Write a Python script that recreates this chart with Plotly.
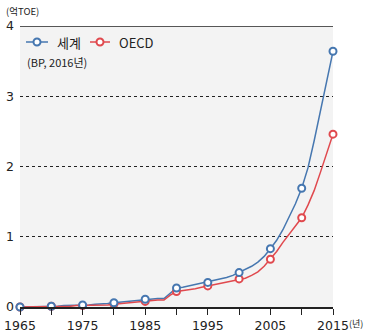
import plotly.graph_objects as go

years = list(range(1965, 2016))
world = [0.00, 0.00, 0.00, 0.00, 0.01, 0.01, 0.01, 0.02, 0.02, 0.03,
         0.03, 0.03, 0.04, 0.04, 0.05, 0.06, 0.07, 0.08, 0.09, 0.10,
         0.11, 0.11, 0.12, 0.12, 0.20, 0.27, 0.28, 0.30, 0.31, 0.33,
         0.35, 0.37, 0.40, 0.42, 0.45, 0.49, 0.53, 0.58, 0.64, 0.72,
         0.83, 0.95, 1.10, 1.28, 1.47, 1.69, 1.98, 2.37, 2.80, 3.22,
         3.64]
oecd = [0.00, 0.00, 0.00, 0.00, 0.00, 0.01, 0.01, 0.01, 0.01, 0.02,
        0.02, 0.02, 0.02, 0.03, 0.03, 0.04, 0.05, 0.05, 0.06, 0.07,
        0.08, 0.09, 0.10, 0.10, 0.17, 0.22, 0.23, 0.25, 0.26, 0.28,
        0.30, 0.31, 0.33, 0.35, 0.37, 0.40, 0.41, 0.45, 0.50, 0.58,
        0.68, 0.79, 0.92, 1.04, 1.15, 1.27, 1.45, 1.66, 1.92, 2.18,
        2.46]
series_names = ["세계", "OECD"]
colors = ["#4677b0", "#e0494e"]
x_tickvals = list(range(1965, 2016, 5))
x_ticktext = [str(y) if (y - 1965) % 10 == 0 else "" for y in x_tickvals]
y_tickvals = [0, 1, 2, 3, 4]

KFONT = "Noto Sans CJK KR"
NFONT = "DejaVu Sans"
TXT = "#222"

# plot area in pixels: x 20..333, y 26..307
L, R, T, B = 20, 333, 26, 307
W, H = R - L, B - T
def px(x): return (x - L) / W
def py(y): return (B - y) / H

fig = go.Figure()

for name, vals, col in zip(series_names, [world, oecd], colors):
    fig.add_trace(go.Scatter(x=years, y=vals, mode="lines", showlegend=False,
                             line=dict(color=col, width=1.5), cliponaxis=False,
                             hoverinfo="skip"))
for name, vals, col in list(zip(series_names, [world, oecd], colors))[::-1]:
    mx = [y for y in years if y % 5 == 0]
    my = [v for y, v in zip(years, vals) if y % 5 == 0]
    fig.add_trace(go.Scatter(x=mx, y=my, mode="markers", showlegend=False,
                             marker=dict(symbol="circle", size=7, color="white",
                                         line=dict(color=col, width=2)),
                             cliponaxis=False))

shapes = [dict(type="line", xref="paper", yref="y", x0=0, x1=1, y0=4, y1=4,
               line=dict(color=TXT, width=1.5))]
annotations = [
    dict(text="(억TOE)", xref="paper", yref="paper", x=px(4), y=py(11),
         xanchor="left", yanchor="middle", showarrow=False,
         font=dict(size=9.5, family=KFONT, color=TXT)),
    dict(text="(BP, 2016년)", xref="paper", yref="paper", x=px(25), y=py(62),
         xanchor="left", yanchor="middle", showarrow=False,
         font=dict(size=11, family=KFONT, color=TXT)),
    dict(text="(년)", xref="paper", yref="paper", x=px(347), y=py(323),
         xanchor="left", yanchor="middle", showarrow=False,
         font=dict(size=9, family=KFONT, color=TXT)),
]
# manual legend
legend_items = [(26, 48, 55), (90, 110, 117)]
for (x0, x1, tx), name, col in zip(legend_items, series_names, colors):
    ly = py(42)
    shapes.append(dict(type="line", xref="paper", yref="paper", x0=px(x0), x1=px(x1),
                       y0=ly, y1=ly, line=dict(color=col, width=1.5)))
    cx = (x0 + x1) / 2
    shapes.append(dict(type="circle", xref="paper", yref="paper",
                       x0=px(cx - 3.5), x1=px(cx + 3.5), y0=py(42 + 3.5), y1=py(42 - 3.5),
                       fillcolor="white", line=dict(color=col, width=2)))
    annotations.append(dict(text=name, xref="paper", yref="paper", x=px(tx), y=ly,
                            xanchor="left", yanchor="middle", showarrow=False,
                            font=dict(size=13, family=KFONT, color=TXT)))

fig.update_layout(
    width=367, height=334,
    margin=dict(l=L, r=367 - R, t=T, b=334 - B, pad=0),
    paper_bgcolor="white", plot_bgcolor="#f3f3f3",
    font=dict(family=KFONT, color=TXT, size=13),
    showlegend=False,
    xaxis=dict(range=[1965, 2015], tickvals=x_tickvals, ticktext=x_ticktext,
               showgrid=False, zeroline=False, showline=True, linecolor=TXT,
               linewidth=1.5, ticks="outside", ticklen=6, tickcolor=TXT,
               tickwidth=1, automargin=False,
               tickfont=dict(size=12.5, family=NFONT, color=TXT)),
    yaxis=dict(range=[0, 4], tickvals=y_tickvals, showgrid=True,
               gridcolor=TXT, gridwidth=1, griddash="dot", zeroline=False,
               showline=False, ticks="", ticklabelstandoff=5, automargin=False,
               tickfont=dict(size=12.5, family=NFONT, color=TXT)),
    annotations=annotations,
    shapes=shapes,
)

fig.write_html("out.html")
